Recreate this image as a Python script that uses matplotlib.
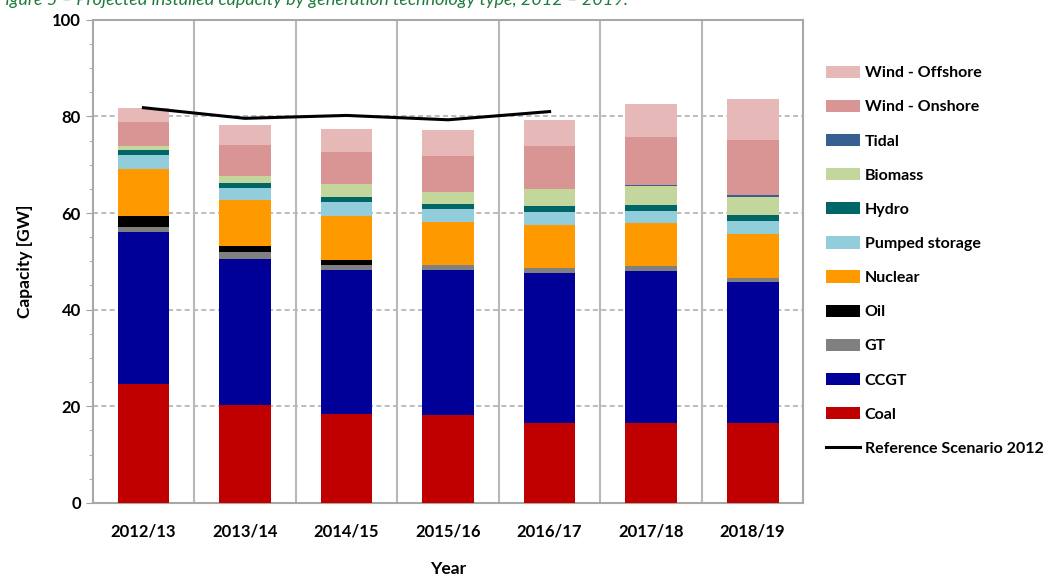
import matplotlib.pyplot as plt
import numpy as np
from matplotlib.patches import Patch
from matplotlib.lines import Line2D

plt.rcParams['font.family'] = ['Lato', 'DejaVu Sans']

years = ["2012/13", "2013/14", "2014/15", "2015/16", "2016/17", "2017/18", "2018/19"]

# capacity by technology, GW (bottom to top of the stack)
coal = [24.6, 20.3, 18.4, 18.2, 16.5, 16.5, 16.5]
ccgt = [31.4, 30.2, 29.8, 30.0, 31.1, 31.4, 29.3]
gt = [1.2, 1.5, 1.1, 1.1, 1.0, 1.2, 0.7]
oil = [2.1, 1.1, 1.0, 0.0, 0.0, 0.0, 0.0]
nuclear = [9.9, 9.5, 9.0, 8.9, 9.0, 8.8, 9.2]
pumped = [2.9, 2.6, 3.0, 2.6, 2.7, 2.6, 2.7]
hydro = [1.0, 1.0, 1.1, 1.0, 1.2, 1.2, 1.2]
biomass = [0.7, 1.5, 2.6, 2.5, 3.5, 3.8, 3.7]
tidal = [0.0, 0.0, 0.0, 0.0, 0.0, 0.2, 0.4]
onshore = [5.1, 6.4, 6.7, 7.6, 8.9, 10.0, 11.4]
offshore = [2.9, 4.2, 4.7, 5.3, 5.3, 6.8, 8.6]

ref_scenario = [81.8, 79.6, 80.2, 79.3, 81.0]

series = [
    ("Coal", coal, "#C00000"),
    ("CCGT", ccgt, "#000099"),
    ("GT", gt, "#808080"),
    ("Oil", oil, "#000000"),
    ("Nuclear", nuclear, "#FF9900"),
    ("Pumped storage", pumped, "#92CDDC"),
    ("Hydro", hydro, "#006666"),
    ("Biomass", biomass, "#C3D69B"),
    ("Tidal", tidal, "#366092"),
    ("Wind - Onshore", onshore, "#D99594"),
    ("Wind - Offshore", offshore, "#E6B9B8"),
]

fig = plt.figure(figsize=(10.53, 5.82), dpi=100)
ax = fig.add_axes([0.088, 0.136, 0.675, 0.830])

x = np.arange(len(years))
bottom = np.zeros(len(years))
for name, vals, col in series:
    ax.bar(x, vals, 0.51, bottom=bottom, color=col, zorder=3)
    bottom += np.array(vals)

ax.plot(x[:len(ref_scenario)], ref_scenario, color="black", lw=2.2, zorder=4)

ax.set_xlim(-0.5, len(years) - 0.5)
ax.set_ylim(0, 100)
ax.set_yticks(range(0, 101, 20))
ax.set_yticks(range(0, 101, 5), minor=True)
ax.set_xticks(x)
ax.set_xticklabels(years, fontweight="bold", fontsize=12)
for lab in ax.get_yticklabels():
    lab.set_fontweight("bold")
    lab.set_fontsize(12)
ax.tick_params(axis="x", length=0, pad=15)
ax.tick_params(axis="y", which="major", length=5, color="#A0A0A0")
ax.tick_params(axis="y", which="minor", length=3, color="#A0A0A0")

# grid: dashed horizontal, solid vertical separators
for yv in range(20, 100, 20):
    ax.axhline(yv, color="#B0B0B0", lw=1.2, ls=(0, (3, 2)), zorder=1)
for xv in np.arange(0.5, len(years) - 0.5, 1):
    ax.axvline(xv, color="#B8B8B8", lw=1.5, zorder=1)
for s in ax.spines.values():
    s.set_color("#A8A8A8")
    s.set_linewidth(1.5)

ax.set_ylabel("Capacity [GW]", fontweight="bold", fontsize=12.5, labelpad=14)
ax.set_xlabel("Year", fontweight="bold", fontsize=12.5, labelpad=15)

handles = [Patch(facecolor=col, label=name) for name, vals, col in reversed(series)]
handles.append(Line2D([0], [0], color="black", lw=2.2, label="Reference Scenario 2012"))
leg = fig.legend(handles=handles, loc="upper left", bbox_to_anchor=(0.771, 0.912),
                 frameon=False, prop={"weight": "bold", "size": 11.5},
                 handlelength=2.1, handleheight=0.8, labelspacing=1.22,
                 handletextpad=0.3)

fig.text(-0.004, 1.0, "Figure 5 \u2013 Projected installed capacity by generation technology type, 2012 \u2013 2019.",
         color="#1E7B3C", fontsize=13, style="italic", va="center", ha="left")

fig.savefig("out.png", dpi=100)
